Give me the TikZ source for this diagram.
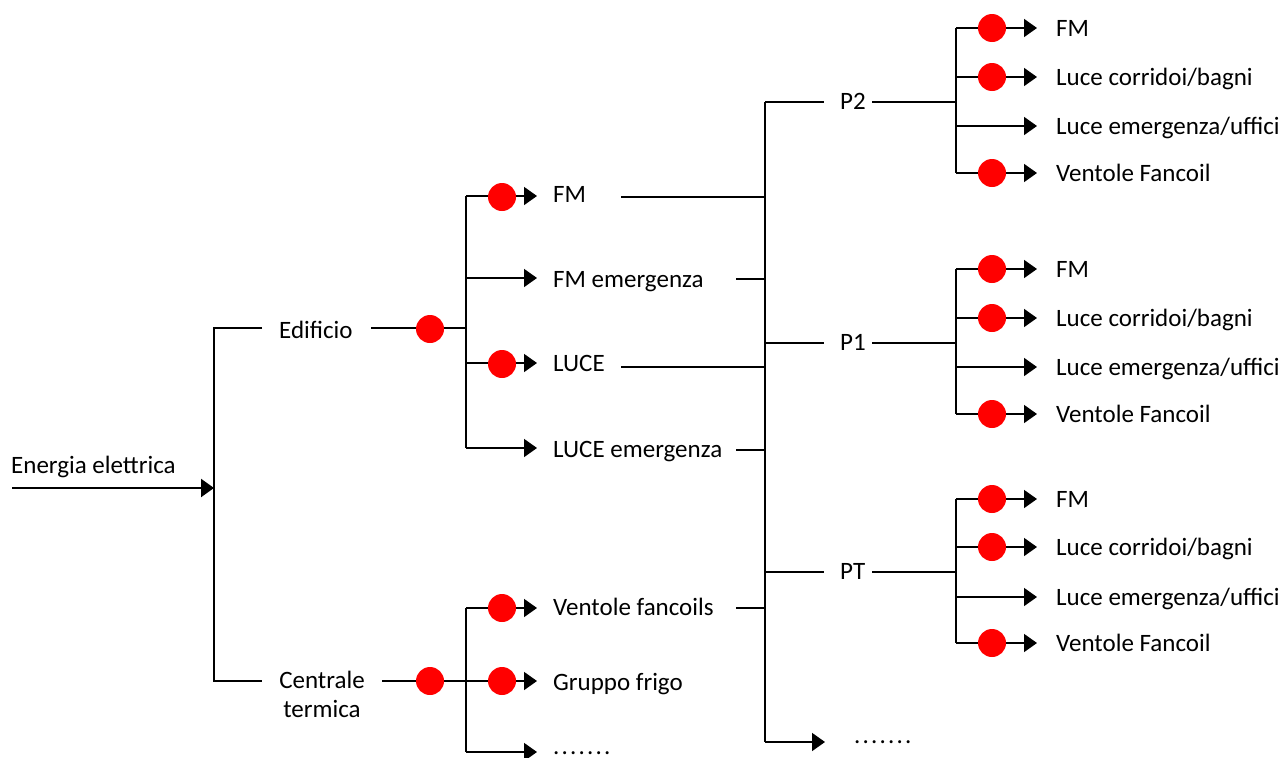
\documentclass[tikz,border=0pt]{standalone}
\usepackage{fontspec}
\setmainfont{Carlito}
\usetikzlibrary{arrows.meta}
\newcommand{\mydots}{.\kern2.2pt.\kern2.2pt.\kern2.2pt.\kern2.2pt.\kern2.2pt.\kern2.2pt.}
\begin{document}
\begin{tikzpicture}[x=1pt,y=-1pt,
  wire/.style={line width=2.2pt},
  branch/.style={line width=1.7pt},
  arr/.style={-{Triangle[length=13pt,width=18pt]}},
  dot/.style={circle,fill=red,draw=none,inner sep=0pt,minimum size=28pt},
  lbl/.style={anchor=base west,inner sep=0pt,font=\fontsize{25}{29}\selectfont}]
\useasboundingbox (0,0) rectangle (1286,758);

% ---- labels
\node[lbl] (energia) at (11,473) {Energia elettrica};
\node[lbl] (edificio) at (279,338) {Edificio};
\node[lbl,anchor=base,align=center] (centrale) at (322,717) {Centrale\\termica};
\node[lbl] (fm) at (553,202) {FM};
\node[lbl] (fme) at (553,287) {FM emergenza};
\node[lbl] (luce) at (553,371) {LUCE};
\node[lbl] (lucee) at (553,457) {LUCE emergenza};
\node[lbl] (vent) at (553,615) {Ventole fancoils};
\node[lbl] (frigo) at (553,690) {Gruppo frigo};
\node[lbl] (etc1) at (553,754) {\mydots};
\node[lbl] (etc2) at (854,743) {\mydots};

% ---- coordinates
\coordinate (in) at (12,488);
\coordinate (mainT) at (214,328);
\coordinate (mainB) at (214,681);
\coordinate (edT) at (466,196);
\coordinate (edM) at (466,328);
\coordinate (edB) at (466,448);
\coordinate (ctT) at (466,608);
\coordinate (ctM) at (466,681);
\coordinate (ctB) at (466,752);
\coordinate (busT) at (765,102);
\coordinate (busB) at (765,742);

% ---- main input and first split
\draw[wire,arr] (in) -- (214,488);
\draw[wire] (262,328) -- (mainT) -- (mainB) -- (262,681);
\draw[wire] (371,328) -- (edM);
\draw[wire] (382,681) -- (ctM);

% ---- Edificio branches
\draw[wire] (edT) -- (edB);
\foreach \y in {196,278,363,448} \draw[branch,arr] (466,\y) -- (537,\y);
% ---- Centrale termica branches
\draw[wire] (ctT) -- (ctB);
\foreach \y in {608,681,752} \draw[branch,arr] (466,\y) -- (537,\y);

% ---- feeders to the bus
\draw[wire] (621,197) -- (765,197);
\draw[wire] (736,279) -- (765,279);
\draw[wire] (621,367) -- (765,367);
\draw[wire] (736,450) -- (765,450);
\draw[wire] (736,608) -- (765,608);
\draw[wire] (busT) -- (busB);
\draw[branch,arr] (busB) -- (825,742);

% ---- floors
\foreach \n/\y/\a/\b/\c/\d in {2/102/28/77/126/173, 1/343/269/318/367/414, T/572/499/547/597/643}{
  \draw[wire] (765,\y) -- (824,\y);
  \node[lbl] (P\n) at (840,\y+7) {P\n};
  \draw[wire] (872,\y) -- (956,\y);
  \draw[wire] (956,\a) -- (956,\d);
  \foreach \yy in {\a,\b,\c,\d} \draw[branch,arr] (956,\yy) -- (1037,\yy);
  \node[lbl] (fm\n) at (1056,\a+8) {FM};
  \node[lbl] (lc\n) at (1056,\b+8) {Luce corridoi/bagni};
  \node[lbl] (le\n) at (1056,\c+8) {Luce emergenza/uffici};
  \node[lbl] (vf\n) at (1056,\d+8) {Ventole Fancoil};
  \node[dot] (d1\n) at (992,\a) {};
  \node[dot] (d2\n) at (992,\b) {};
  \node[dot] (d4\n) at (992,\d) {};
}

% ---- red dots
\node[dot] (ded) at (430,329) {};
\node[dot] (dct) at (430,681) {};
\node[dot] (dfm) at (502,197) {};
\node[dot] (dluce) at (502,364) {};
\node[dot] (dvent) at (502,608) {};
\node[dot] (dfrigo) at (502,681) {};
\end{tikzpicture}
\end{document}
